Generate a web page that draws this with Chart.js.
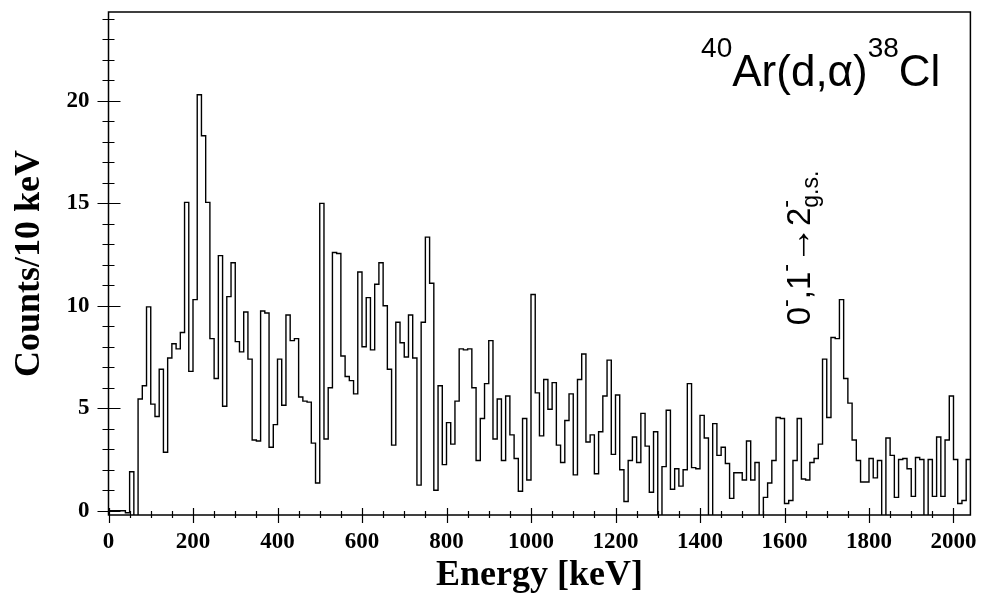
<!DOCTYPE html>
<html><head><meta charset="utf-8">
<script src="https://cdn.jsdelivr.net/npm/chart.js@4.4.1/dist/chart.umd.min.js"></script>
<style>html,body{margin:0;padding:0;background:#fff;}canvas{display:block;}</style>
</head><body>
<canvas id="c" width="983" height="601"></canvas>
<script>
// ---- data ----
const binLowEdgeKeV = 0;
const binWidthKeV = 10;
const energyMaxKeV = 2040;
const countsPer10keV = [
  0, 0, 0, 0, -0.1, 1.9, -0.5, 5.45, 6.1, 9.95,
  5.2, 4.6, 6.9, 2.85, 7.45, 8.15, 7.9, 8.7, 15.05, 6.8,
  10.3, 20.3, 18.3, 15.05, 8.4, 6.45, 12.45, 5.1, 10.45, 12.1,
  8.25, 7.75, 9.7, 7.4, 3.45, 3.4, 9.75, 9.65, 3.1, 4.2,
  7.4, 5.15, 9.55, 8.3, 8.4, 5.55, 5.35, 5.3, 3.3, 1.35,
  15.0, 3.5, 6.0, 12.6, 12.55, 7.55, 6.55, 6.35, 5.7, 11.65,
  8.0, 10.4, 7.85, 11.05, 12.1, 10.0, 6.9, 3.2, 9.2, 8.2,
  7.5, 9.55, 7.45, 1.25, 9.2, 13.35, 11.1, 1.0, 6.1, 2.25,
  4.3, 3.25, 5.35, 7.9, 7.85, 7.9, 6.0, 2.45, 4.5, 6.2,
  8.3, 3.5, 5.45, 2.45, 5.6, 3.7, 2.55, 0.95, 4.5, 1.5,
  10.55, 5.75, 3.65, 6.4, 4.95, 6.25, 3.2, 2.35, 4.4, 5.7,
  1.75, 6.4, 7.65, 3.35, 3.7, 1.8, 3.85, 5.6, 7.35, 2.75,
  5.65, 2.0, 0.45, 2.45, 3.6, 2.35, 4.75, 3.15, 0.9, 3.85,
  -0.3, 2.15, 4.9, 1.05, 2.05, 1.2, 2.0, 6.2, 2.1, 2.05,
  4.65, 3.55, -0.5, 4.25, 2.7, 3.1, 2.3, 0.6, 1.85, 1.85,
  1.5, 3.4, 1.5, 2.35, -0.5, 0.65, 1.35, 2.45, 4.55, 4.5,
  0.35, 0.5, 2.45, 4.5, 1.55, 1.5, 2.35, 2.55, 3.25, 7.4,
  4.55, 8.45, 8.4, 10.3, 6.45, 5.25, 3.45, 2.45, 1.4, 1.4,
  2.55, 1.6, 2.45, -0.5, 3.55, 2.7, 0.65, 2.5, 2.55, 2.05,
  0.7, 2.6, 2.5, -0.5, 2.5, 0.7, 3.6, 0.7, 3.45, 5.6,
  2.5, 0.35, 0.5, 2.5
];
const xTickLabels = [0, 200, 400, 600, 800, 1000, 1200, 1400, 1600, 1800, 2000];
const yTickLabels = [0, 5, 10, 15, 20];
const xMinorStepKeV = 50;
const yMinorStep = 1;
const yMin = -0.21, yMax = 24.34;

// histogram outline points (low edges + closing edge)
const histPoints = countsPer10keV.map((v, i) => ({x: binLowEdgeKeV + i * binWidthKeV, y: v}));
histPoints.push({x: energyMaxKeV, y: countsPer10keV[countsPer10keV.length - 1]});

const framePlugin = {
  id: 'rootFrame',
  afterDraw(chart) {
    const {ctx, chartArea: a, scales: {x, y}} = chart;
    ctx.save();
    ctx.strokeStyle = '#000';
    ctx.lineWidth = 1.5;
    ctx.strokeRect(a.left, a.top, a.right - a.left, a.bottom - a.top);
    ctx.lineWidth = 1.2;
    ctx.beginPath();
    for (let e = 0; e <= energyMaxKeV; e += xMinorStepKeV) {
      const px = Math.round(x.getPixelForValue(e)) + 0.5;
      const major = xTickLabels.includes(e);
      ctx.moveTo(px, a.bottom - (major ? 7 : 4));
      ctx.lineTo(px, a.bottom + (major ? 8 : 3));
    }
    for (let v = 0; v <= 24; v += yMinorStep) {
      const py = Math.round(y.getPixelForValue(v)) + 0.5;
      const major = yTickLabels.includes(v);
      ctx.moveTo(a.left - (major ? 11 : 6), py);
      ctx.lineTo(a.left + (major ? 12 : 6), py);
    }
    ctx.stroke();

    // reaction label
    ctx.fillStyle = '#000';
    ctx.textBaseline = 'alphabetic';
    ctx.textAlign = 'left';
    const sans = (s) => s + 'px "Liberation Sans", Arial, sans-serif';
    const pieces = [
      {t: '40', f: sans(28), dy: -29},
      {t: 'Ar(d,\u03B1)', f: sans(44), dy: 0},
      {t: '38', f: sans(28), dy: -29},
      {t: 'Cl', f: sans(44), dy: 0}
    ];
    let total = 0;
    pieces.forEach(p => { ctx.font = p.f; p.w = ctx.measureText(p.t).width; total += p.w; });
    let cx = a.right - 30 - total;
    const by = a.top + 74;
    pieces.forEach(p => { ctx.font = p.f; ctx.fillText(p.t, cx, by + p.dy); cx += p.w; });

    // rotated transition label
    ctx.save();
    ctx.translate(x.getPixelForValue(1660), y.getPixelForValue(9.05));
    ctx.rotate(-Math.PI / 2);
    let tx = 0;
    const big = sans(33), small = sans(23);
    const seq = [
      {t: '0', f: big, dy: 0, adv: true},
      {t: '-', f: small, dy: -17, adv: true},
      {t: ',', f: big, dy: 0, adv: true},
      {t: '1', f: big, dy: 0, adv: true},
      {t: '-', f: small, dy: -17, adv: true},
      {t: '\u2192', f: sans(38), dy: 0, adv: true},
      {t: '2', f: big, dy: 0, adv: true},
      {t: '-', f: small, dy: -17, adv: false},
      {t: 'g.s.', f: small, dy: 8, adv: true}
    ];
    seq.forEach(p => {
      ctx.font = p.f;
      ctx.fillText(p.t, tx, p.dy);
      if (p.adv) tx += ctx.measureText(p.t).width;
    });
    ctx.restore();
    ctx.restore();
  }
};

const tickFont = {family: '"Liberation Serif", "Times New Roman", serif', size: 23, weight: 'bold'};
const titleFont = {family: '"Liberation Serif", "Times New Roman", serif', size: 36, weight: 'bold'};
const noScalePadding = (s) => { s.paddingTop = 0; s.paddingBottom = 0; s.paddingLeft = 0; s.paddingRight = 0; };

new Chart(document.getElementById('c'), {
  type: 'line',
  data: {
    datasets: [{
      data: histPoints,
      stepped: 'before',
      borderColor: '#000',
      borderWidth: 1.4,
      pointRadius: 0,
      fill: false,
      clip: 0,
      tension: 0
    }]
  },
  options: {
    responsive: false,
    animation: false,
    devicePixelRatio: 1,
    layout: {padding: {top: 12, right: 12.6, left: 0, bottom: 0}},
    plugins: {legend: {display: false}, tooltip: {enabled: false}},
    scales: {
      x: {
        type: 'linear',
        min: 0, max: energyMaxKeV,
        afterBuildTicks: (s) => { s.ticks = xTickLabels.map(v => ({value: v})); },
        afterFit: (s) => { s.height = 86; noScalePadding(s); },
        grid: {display: false, drawTicks: false},
        border: {display: false},
        ticks: {
          autoSkip: false, maxRotation: 0, minRotation: 0,
          padding: 13, color: '#000', font: tickFont,
          callback: (v) => String(v)
        },
        title: {
          display: true, text: 'Energy [keV]', color: '#000',
          font: titleFont,
          padding: {top: 0, bottom: 4}
        }
      },
      y: {
        type: 'linear',
        min: yMin, max: yMax,
        afterBuildTicks: (s) => { s.ticks = yTickLabels.map(v => ({value: v})); },
        afterFit: (s) => { s.width = 108.5; noScalePadding(s); },
        grid: {display: false, drawTicks: false},
        border: {display: false},
        ticks: {
          autoSkip: false,
          padding: 19, color: '#000', font: tickFont,
          callback: (v) => String(v)
        },
        title: {
          display: true, text: 'Counts/10 keV', color: '#000',
          font: titleFont,
          padding: {top: 8, bottom: 0}
        }
      }
    }
  },
  plugins: [framePlugin]
});
</script>
</body></html>
